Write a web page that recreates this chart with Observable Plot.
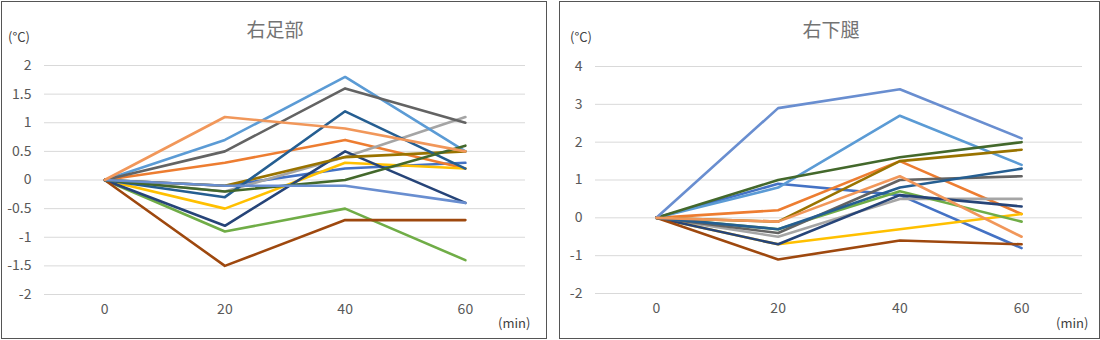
<!DOCTYPE html>
<html>
<head>
<meta charset="utf-8">
<script src="https://cdn.jsdelivr.net/npm/d3@7"></script>
<script src="https://cdn.jsdelivr.net/npm/@observablehq/plot@0.6"></script>
<style>
  html, body { margin: 0; padding: 0; background: #fff; }
  body { width: 1100px; height: 340px; position: relative; overflow: hidden;
         font-family: "Noto Sans CJK JP", "Noto Sans", sans-serif; color: #595959; }
  .box { position: absolute; border: 1px solid #555; box-sizing: border-box; }
  .abs { position: absolute; white-space: nowrap; }
  .title { font-size: 19px; color: #737373; transform: translateX(-50%); }
  .unit { font-size: 13px; color: #404040; }
  .plot { position: absolute; top: 0; }
</style>
</head>
<body>
<div class="box" style="left:1px; top:1px; width:546px; height:338px;"></div>
<div class="box" style="left:559px; top:1px; width:541px; height:338px;"></div>
<div id="left" class="plot" style="left:0px;"></div>
<div id="right" class="plot" style="left:557px;"></div>
<div class="abs title" style="left:275px; top:15px;">右足部</div>
<div class="abs title" style="left:831px; top:15px;">右下腿</div>
<div class="abs unit" style="left:8px; top:27px;">(°C)</div>
<div class="abs unit" style="left:570px; top:27px;">(°C)</div>
<div class="abs unit" style="left:498px; top:313px;">(min)</div>
<div class="abs unit" style="left:1056px; top:313px;">(min)</div>
<script>
// time points (min)
const times = [0, 20, 40, 60];
const xTicks = [0, 20, 40, 60];

// series (Excel default palette order)
const seriesNames = ["s1","s2","s3","s4","s5","s6","s7","s8","s9","s10","s11","s12","s13","s14"];
const seriesColors = ["#4472C4","#ED7D31","#A5A5A5","#FFC000","#5B9BD5","#70AD47","#264478","#9E480E","#636363","#997300","#255E91","#43682B","#698ED0","#F1975A"];

// 右足部 (right foot) values at 0,20,40,60 min
const footS1  = [0, -0.1,  0.2,  0.3];
const footS2  = [0,  0.3,  0.7,  0.2];
const footS3  = [0, -0.2,  0.4,  1.1];
const footS4  = [0, -0.5,  0.3,  0.2];
const footS5  = [0,  0.7,  1.8,  0.5];
const footS6  = [0, -0.9, -0.5, -1.4];
const footS7  = [0, -0.8,  0.5, -0.4];
const footS8  = [0, -1.5, -0.7, -0.7];
const footS9  = [0,  0.5,  1.6,  1.0];
const footS10 = [0, -0.1,  0.4,  0.5];
const footS11 = [0, -0.3,  1.2,  0.2];
const footS12 = [0, -0.2,  0.0,  0.6];
const footS13 = [0, -0.1, -0.1, -0.4];
const footS14 = [0,  1.1,  0.9,  0.5];
const footYTicks = [-2, -1.5, -1, -0.5, 0, 0.5, 1, 1.5, 2];

// 右下腿 (right lower leg) values at 0,20,40,60 min
const legS1  = [0,  0.9,  0.6, -0.8];
const legS2  = [0,  0.2,  1.5,  0.1];
const legS3  = [0, -0.5,  0.5,  0.5];
const legS4  = [0, -0.7, -0.3,  0.1];
const legS5  = [0,  0.8,  2.7,  1.4];
const legS6  = [0, -0.3,  0.7, -0.1];
const legS7  = [0, -0.7,  0.6,  0.3];
const legS8  = [0, -1.1, -0.6, -0.7];
const legS9  = [0, -0.4,  1.0,  1.1];
const legS10 = [0, -0.1,  1.5,  1.8];
const legS11 = [0, -0.3,  0.8,  1.3];
const legS12 = [0,  1.0,  1.6,  2.0];
const legS13 = [0,  2.9,  3.4,  2.1];
const legS14 = [0, -0.1,  1.1, -0.5];
const legYTicks = [-2, -1, 0, 1, 2, 3, 4];

const footSeries = [footS1,footS2,footS3,footS4,footS5,footS6,footS7,footS8,footS9,footS10,footS11,footS12,footS13,footS14];
const legSeries  = [legS1,legS2,legS3,legS4,legS5,legS6,legS7,legS8,legS9,legS10,legS11,legS12,legS13,legS14];

function toRows(list) {
  const rows = [];
  list.forEach((vals, i) => vals.forEach((v, j) => rows.push({series: seriesNames[i], t: times[j], v})));
  return rows;
}

function makeChart(rows, yTicks, yDomain, opts) {
  return Plot.plot({
    width: opts.width, height: 340,
    marginLeft: opts.ml, marginRight: opts.mr, marginTop: opts.mt, marginBottom: opts.mb,
    style: {fontFamily: "'Noto Sans CJK JP', 'Noto Sans', sans-serif", fontSize: "14px", color: "#595959", background: "transparent", overflow: "visible"},
    x: {domain: [-10, 70], ticks: xTicks, tickSize: 0, tickPadding: 10, label: null, tickFormat: d => String(d)},
    y: {domain: yDomain, ticks: yTicks, tickSize: 0, tickPadding: 13, label: null, tickFormat: d => String(d)},
    color: {domain: seriesNames, range: seriesColors},
    marks: [
      Plot.gridY(yTicks, {stroke: "#d9d9d9", strokeOpacity: 1, strokeWidth: 1}),
      Plot.line(rows, {x: "t", y: "v", z: "series", stroke: "series", strokeWidth: 2.6})
    ]
  });
}

document.getElementById("left").append(
  makeChart(toRows(footSeries), footYTicks, [-2, 2], {width: 548, ml: 44, mr: 23, mt: 65, mb: 46})
);
document.getElementById("right").append(
  makeChart(toRows(legSeries), legYTicks, [-2, 4], {width: 543, ml: 38, mr: 18, mt: 66, mb: 47})
);
</script>
</body>
</html>
